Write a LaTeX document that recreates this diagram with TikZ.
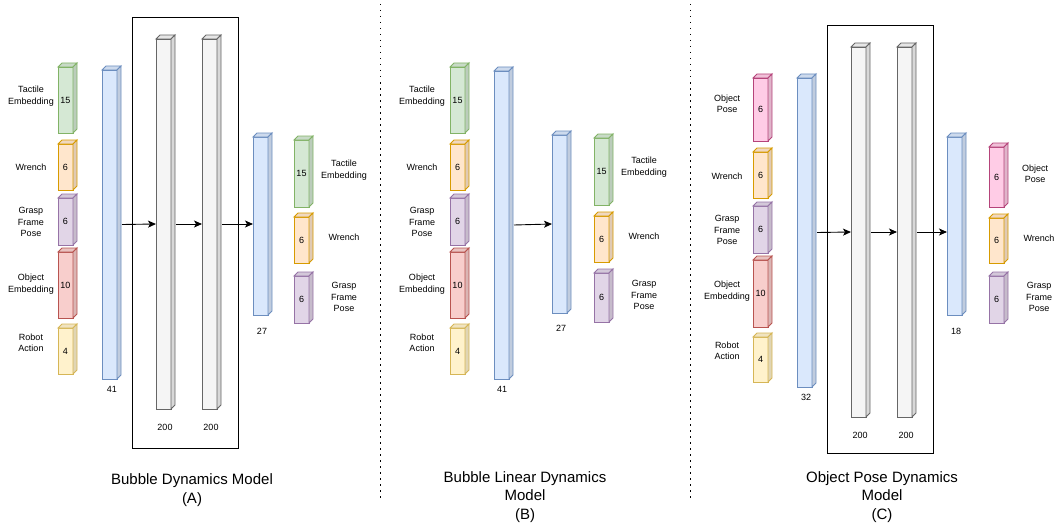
\documentclass[tikz,border=0pt]{standalone}
\usepackage{fontspec}
\setmainfont{Liberation Sans}
\usetikzlibrary{arrows.meta}
\usetikzlibrary{calc}

% draw.io colours: F = fill, L = line
\definecolor{grF}{HTML}{D5E8D4}\definecolor{grL}{HTML}{82B366}
\definecolor{orF}{HTML}{FFE6CC}\definecolor{orL}{HTML}{D79B00}
\definecolor{puF}{HTML}{E1D5E7}\definecolor{puL}{HTML}{9673A6}
\definecolor{reF}{HTML}{F8CECC}\definecolor{reL}{HTML}{B85450}
\definecolor{yeF}{HTML}{FFF2CC}\definecolor{yeL}{HTML}{D6B656}
\definecolor{blF}{HTML}{DAE8FC}\definecolor{blL}{HTML}{6C8EBF}
\definecolor{gyF}{HTML}{F5F5F5}\definecolor{gyL}{HTML}{666666}
\definecolor{piF}{HTML}{FFCCE6}\definecolor{piL}{HTML}{B5447A}

\tikzset{
	layer/.style={rectangle, inner sep=0pt, outer sep=0pt, minimum width=15pt, line width=0.9pt, font=\fontsize{9}{11}\selectfont},
	lbl/.style={align=center, inner sep=0pt, font=\fontsize{9}{11.5}\selectfont},
	title/.style={align=center, inner sep=0pt, font=\fontsize{15}{18.5}\selectfont},
	conn/.style={-{Stealth[length=8pt,width=7pt,inset=2pt]}, line width=0.9pt},
	sep/.style={line width=1pt, dash pattern=on 1.5pt off 4.5pt},
}

\newcommand{\layer}[6] % name, x left, y top, y bottom, colour, size
{
	\pgfmathsetmacro{\lh}{#4-#3}
	% front face
	\node[layer, fill=#5F, draw=#5L, minimum height=\lh pt] (#1) at ({#2+7.5}, {(#3+#4)/2}) {#6};
	% top face
	\filldraw[fill=#5F!94!black, draw=#5L, line width=0.9pt] (#1.north west) -- ++(4,-4) -- ([shift={(4,-4)}]#1.north east) -- (#1.north east) -- cycle;
	% side face
	\filldraw[fill=#5F!88!black, draw=#5L, line width=0.9pt] (#1.north east) -- ++(4,-4) -- ([shift={(4,-4)}]#1.south east) -- (#1.south east) -- cycle;
}

\begin{document}
\begin{tikzpicture}[x=1pt, y=-1pt]
	\useasboundingbox (0,0) rectangle (1055,527);

	% ---- (A) bubble dynamics model ----
	\draw[line width=0.9pt] (132,17) rectangle (238,448);
	\layer{inTactA}{58}{67}{133}{gr}{15}
	\layer{inWrenchA}{58}{144}{190}{or}{6}
	\layer{inGraspA}{58}{198}{245}{pu}{6}
	\layer{inObjA}{58}{252}{318}{re}{10}
	\layer{inActA}{58}{328}{374}{ye}{4}
	\node[lbl] (lTactA) at (31,96) {Tactile\\Embedding};
	\node[lbl] (lWrenchA) at (31,167) {Wrench};
	\node[lbl] (lGraspA) at (31,222) {Grasp\\Frame\\Pose};
	\node[lbl] (lObjA) at (31,284) {Object\\Embedding};
	\node[lbl] (lActA) at (31,343) {Robot\\Action};

	\layer{catA}{102}{70}{379}{bl}{}
	\layer{fcA1}{156}{39}{409}{gy}{}
	\layer{fcA2}{202}{39}{409}{gy}{}
	\layer{outA}{253}{137}{315}{bl}{}
	\node[lbl] (nCatA) at (112,389) {41};
	\node[lbl] (nFcA1) at (165,427) {200};
	\node[lbl] (nFcA2) at (211,427) {200};
	\node[lbl] (nOutA) at (262,331) {27};

	\draw[conn] ([xshift=5pt]catA.east) -- (fcA1.west);
	\draw[conn] ([xshift=5pt]fcA1.east) -- (fcA2.west);
	\draw[conn] ([xshift=5pt]fcA2.east) -- (fcA2.east -| outA.west);

	\layer{outTactA}{294}{140}{207}{gr}{15}
	\layer{outWrenchA}{294}{217}{263}{or}{6}
	\layer{outGraspA}{294}{276}{323}{pu}{6}
	\node[lbl] (loTactA) at (344,170) {Tactile\\Embedding};
	\node[lbl] (loWrenchA) at (344,237) {Wrench};
	\node[lbl] (loGraspA) at (344,297) {Grasp\\Frame\\Pose};

	\node[title] (titleA) at (192,490) {Bubble Dynamics Model\\(A)};

	\draw[sep] (380,4) -- (380,500);

	% ---- (B) bubble linear dynamics model ----
	\layer{inTactB}{450}{67}{133}{gr}{15}
	\layer{inWrenchB}{450}{144}{190}{or}{6}
	\layer{inGraspB}{450}{198}{245}{pu}{6}
	\layer{inObjB}{450}{252}{318}{re}{10}
	\layer{inActB}{450}{328}{374}{ye}{4}
	\node[lbl] (lTactB) at (422,96) {Tactile\\Embedding};
	\node[lbl] (lWrenchB) at (422,167) {Wrench};
	\node[lbl] (lGraspB) at (422,222) {Grasp\\Frame\\Pose};
	\node[lbl] (lObjB) at (422,284) {Object\\Embedding};
	\node[lbl] (lActB) at (422,343) {Robot\\Action};

	\layer{catB}{494}{71}{379}{bl}{}
	\layer{outB}{552}{135}{313}{bl}{}
	\node[lbl] (nCatB) at (502,389) {41};
	\node[lbl] (nOutB) at (561,328) {27};
	\draw[conn] ([xshift=5pt]catB.east) -- (outB.west);

	\layer{outTactB}{594}{138}{205}{gr}{15}
	\layer{outWrenchB}{594}{216}{262}{or}{6}
	\layer{outGraspB}{594}{273}{322}{pu}{6}
	\node[lbl] (loTactB) at (644,167) {Tactile\\Embedding};
	\node[lbl] (loWrenchB) at (644,236) {Wrench};
	\node[lbl] (loGraspB) at (644,295) {Grasp\\Frame\\Pose};

	\node[title] (titleB) at (525,497) {Bubble Linear Dynamics\\Model\\(B)};

	\draw[sep] (690,4) -- (690,500);

	% ---- (C) object pose dynamics model ----
	\draw[line width=0.9pt] (827,25) rectangle (933,453);
	\layer{inPoseC}{753}{78}{141}{pi}{6}
	\layer{inWrenchC}{753}{152}{198}{or}{6}
	\layer{inGraspC}{753}{206}{253}{pu}{6}
	\layer{inObjC}{753}{260}{327}{re}{10}
	\layer{inActC}{753}{337}{382}{ye}{4}
	\node[lbl] (lPoseC) at (727,104) {Object\\Pose};
	\node[lbl] (lWrenchC) at (727,176) {Wrench};
	\node[lbl] (lGraspC) at (727,230) {Grasp\\Frame\\Pose};
	\node[lbl] (lObjC) at (727,291) {Object\\Embedding};
	\node[lbl] (lActC) at (727,351) {Robot\\Action};

	\layer{catC}{797}{78}{387}{bl}{}
	\layer{fcC1}{851}{47}{417}{gy}{}
	\layer{fcC2}{897}{47}{417}{gy}{}
	\layer{outC}{947}{137}{315}{bl}{}
	\node[lbl] (nCatC) at (806,397) {32};
	\node[lbl] (nFcC1) at (860,435) {200};
	\node[lbl] (nFcC2) at (906,435) {200};
	\node[lbl] (nOutC) at (956,331) {18};

	\draw[conn] ([xshift=5pt]catC.east) -- (fcC1.west);
	\draw[conn] ([xshift=5pt]fcC1.east) -- (fcC2.west);
	\draw[conn] ([xshift=5pt]fcC2.east) -- (fcC2.east -| outC.west);

	\layer{outPoseC}{989}{147}{207}{pi}{6}
	\layer{outWrenchC}{989}{218}{263}{or}{6}
	\layer{outGraspC}{989}{276}{323}{pu}{6}
	\node[lbl] (loPoseC) at (1035,174) {Object\\Pose};
	\node[lbl] (loWrenchC) at (1039,238) {Wrench};
	\node[lbl] (loGraspC) at (1039,297) {Grasp\\Frame\\Pose};

	\node[title] (titleC) at (882,497) {Object Pose Dynamics\\Model\\(C)};
\end{tikzpicture}
\end{document}
